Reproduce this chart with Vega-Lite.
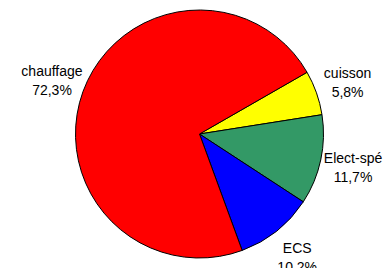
{
  "$schema": "https://vega.github.io/schema/vega-lite/v6.json",
  "autosize": "none",
  "width": 367,
  "height": 268,
  "padding": {"left": 16, "right": 0, "top": 0, "bottom": 0},
  "background": "white",
  "data": {"values": [
    {"cat": "cuisson", "value": 5.8, "pct": "5,8%", "ord": 1},
    {"cat": "Elect-spé", "value": 11.7, "pct": "11,7%", "ord": 2},
    {"cat": "ECS", "value": 10.2, "pct": "10,2%", "ord": 3},
    {"cat": "chauffage", "value": 72.3, "pct": "72,3%", "ord": 4}
  ]},
  "encoding": {
    "theta": {"field": "value", "type": "quantitative", "stack": true, "scale": {"range": [1.05, 7.3332]}},
    "order": {"field": "ord", "type": "quantitative"}
  },
  "layer": [
    {
      "mark": {"type": "arc", "radius": 124, "stroke": "black", "strokeWidth": 1},
      "encoding": {
        "color": {"field": "cat", "type": "nominal", "legend": null,
          "scale": {"domain": ["cuisson", "Elect-spé", "ECS", "chauffage"], "range": ["#FFFF00", "#339966", "#0000FF", "#FF0000"]}}
      }
    },
    {
      "mark": {"type": "text", "radius": 157, "dy": -8, "font": "Liberation Sans", "fontSize": 14, "fill": "black"},
      "encoding": {"text": {"field": "cat"}}
    },
    {
      "mark": {"type": "text", "radius": 157, "dy": 11, "font": "Liberation Sans", "fontSize": 14, "fill": "black"},
      "encoding": {"text": {"field": "pct"}}
    }
  ]
}
